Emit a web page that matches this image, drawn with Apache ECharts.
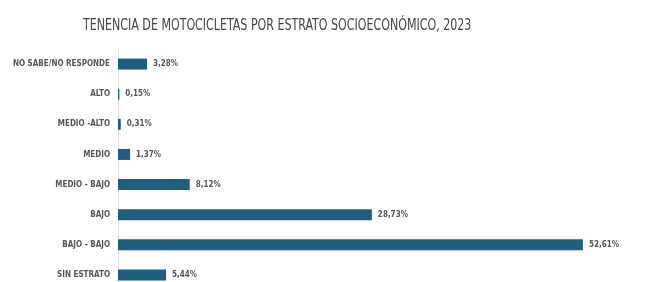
<!DOCTYPE html>
<html>
<head>
<meta charset="utf-8">
<script src="https://cdn.jsdelivr.net/npm/echarts@6/dist/echarts.min.js"></script>
<style>
  html, body { margin: 0; padding: 0; background: #fff; }
  #chart { width: 648px; height: 282px; }
</style>
</head>
<body>
<div id="chart"></div>
<script>
// categorias de arriba hacia abajo
var categorias = ['NO SABE/NO RESPONDE', 'ALTO', 'MEDIO -ALTO', 'MEDIO', 'MEDIO - BAJO', 'BAJO', 'BAJO - BAJO', 'SIN ESTRATO'];
var porcentajes = [3.28, 0.15, 0.31, 1.37, 8.12, 28.73, 52.61, 5.44];
var titulo = 'TENENCIA DE MOTOCICLETAS POR ESTRATO SOCIOECONÓMICO, 2023';

var fuente = 'DejaVu Sans Condensed';

var chart = echarts.init(document.getElementById('chart'));

var option = {
    backgroundColor: '#fff',
    animation: false,
    // titulo angosto, como en la imagen original
    graphic: [{
        type: 'text',
        x: 83,
        y: 19,
        scaleX: 0.82,
        style: {
            text: titulo,
            fontFamily: fuente,
            fontSize: 15,
            fill: '#444'
        }
    }],
    grid: {
        left: 118,
        top: 49,
        width: 486,
        height: 241,
        outerBoundsMode: 'none'
    },
    xAxis: {
        type: 'value',
        min: 0,
        max: 55,
        show: false
    },
    yAxis: {
        type: 'category',
        inverse: true,
        data: categorias,
        axisLine: { show: true, lineStyle: { color: '#e4e4e4', width: 1 } },
        axisTick: { show: false },
        axisLabel: {
            margin: 8,
            fontFamily: fuente,
            fontWeight: 'bold',
            fontSize: 8,
            color: '#555'
        }
    },
    series: [{
        type: 'bar',
        data: porcentajes,
        barWidth: 11,
        itemStyle: { color: '#1e5f80' },
        label: {
            show: true,
            position: 'right',
            distance: 6,
            fontFamily: fuente,
            fontWeight: 'bold',
            fontSize: 8,
            color: '#555',
            formatter: function (p) {
                return p.value.toFixed(2).replace('.', ',') + '%';
            }
        }
    }]
};

chart.setOption(option);
</script>
</body>
</html>
